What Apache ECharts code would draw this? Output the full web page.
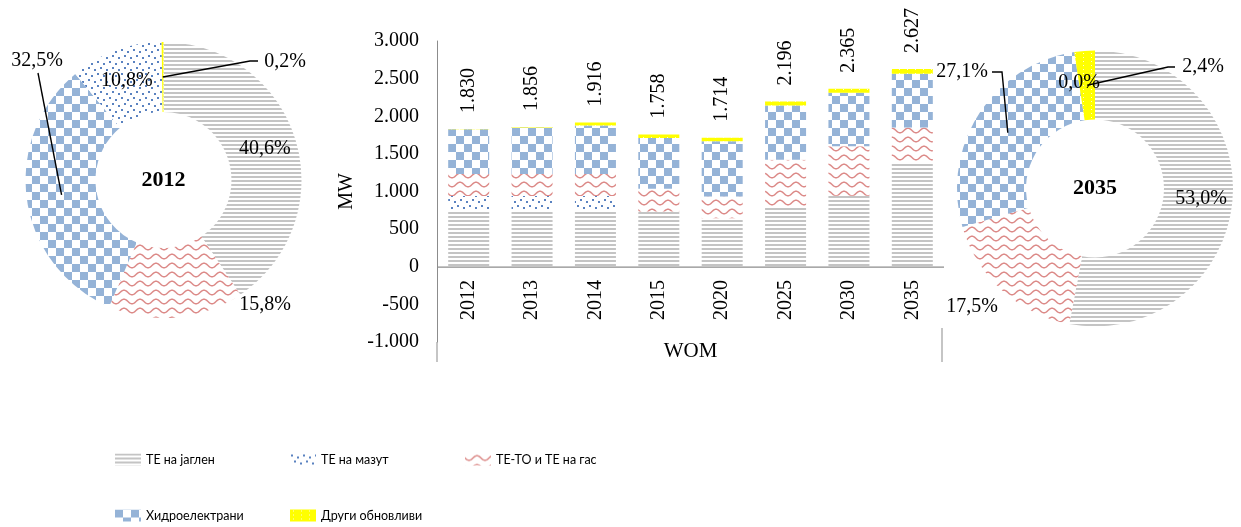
<!DOCTYPE html>
<html><head><meta charset="utf-8">
<script src="https://cdn.jsdelivr.net/npm/echarts@6/dist/echarts.min.js"></script>
<style>html,body{margin:0;padding:0;background:#fff}#c{width:1241px;height:527px}</style>
</head><body><div id="c"></div>
<script>
// ---- data ----
const categories = ['2012', '2013', '2014', '2015', '2020', '2025', '2030', '2035'];
const seriesNames = ['ТЕ на јаглен', 'ТЕ на мазут', 'ТЕ-ТО и ТЕ на гас', 'Хидроелектрани', 'Други обновливи'];
const coal  = [743, 743, 743, 733, 645, 792, 942, 1392];
const mazut = [198, 198, 198, 0, 0, 0, 0, 0];
const gas   = [290, 290, 290, 303, 288, 630, 658, 460];
const hydro = [595, 619, 645, 676, 734, 720, 711, 712];
const other = [4, 6, 40, 46, 47, 54, 54, 63];
const yMin = -1000, yMax = 3000, yInterval = 500;
const pieYears = ['2012', '2035'];
const pieOrder = [0, 2, 3, 1, 4]; // slice order clockwise from 12 o'clock
const xAxisName = 'WOM', yAxisName = 'MW';

// ---- helpers ----
const barData = [coal, mazut, gas, hydro, other];
const totals = categories.map((_, j) => barData.reduce((s, a) => s + a[j], 0));
const fmt = n => String(n).replace(/\B(?=(\d{3})+(?!\d))/g, '.');

function pat(w, h, draw) {
  const c = document.createElement('canvas'); c.width = w; c.height = h;
  const g = c.getContext('2d'); g.fillStyle = '#fff'; g.fillRect(0, 0, w, h); draw(g);
  return { image: c, repeat: 'repeat' };
}
const P = [
  pat(4, 4, g => { g.fillStyle = '#c4c4c4'; g.fillRect(0, 0, 4, 2); }),
  pat(12, 12, g => { g.fillStyle = '#5a82c0'; [[1, 1], [7, 3], [4, 7], [10, 9]].forEach(([x, y]) => g.fillRect(x, y, 2, 2)); }),
  pat(16, 9, g => { g.strokeStyle = '#dc8a88'; g.lineWidth = 1.5; g.beginPath();
    for (let x = -1; x <= 17; x += 0.5) { const y = 4.5 + 2.3 * Math.sin(2 * Math.PI * x / 16); x === -1 ? g.moveTo(x, y) : g.lineTo(x, y); } g.stroke(); }),
  pat(16, 16, g => { g.fillStyle = '#95b3d7'; g.fillRect(0, 0, 8, 8); g.fillRect(8, 8, 8, 8); }),
  pat(8, 4, g => { g.fillStyle = '#ffff00'; g.fillRect(0, 0, 8, 4); g.fillStyle = '#fffbd0'; g.fillRect(3, 1, 1, 1); })
];
const serif = 'Liberation Serif, Times New Roman, serif';
const sans = 'Lato, Roboto, Liberation Sans, sans-serif';

// pie geometry
const pies = [
  { cx: 163.5, cy: 180, r0: 68, r: 138, year: pieYears[0],
    outside: { 1: [265, 305], 2: [37, 61], 4: [285, 62] },
    lines: { 2: [[38, 73]], 4: [[250, 61], [258, 61]] } },
  { cx: 1095, cy: 188.5, r0: 69, r: 138, year: pieYears[1],
    outside: { 1: [972, 307], 2: [962, 72], 4: [1203, 67] },
    lines: { 2: [[1002, 72], [992, 72]], 4: [[1168, 67], [1175, 67]] } }
];
const gridBox = { left: 437, top: 41, width: 507, height: 301 };

const series = barData.map((d, i) => ({
  type: 'bar', name: seriesNames[i], stack: 'total', data: d, barWidth: 41,
  itemStyle: { color: P[i] },
  label: i === 4 ? { show: true, position: 'top', rotate: 90, align: 'left', verticalAlign: 'middle', distance: 16,
    fontFamily: serif, fontSize: 20, color: '#000', formatter: p => fmt(totals[p.dataIndex]) } : { show: false }
}));

const graphic = [];
pies.forEach((pc, k) => {
  const j = categories.indexOf(pc.year);
  const vals = pieOrder.map(i => barData[i][j]);
  const sum = vals.reduce((a, b) => a + b, 0);
  series.push({
    type: 'pie', center: [pc.cx, pc.cy], radius: [pc.r0, pc.r], startAngle: 90, clockwise: true,
    avoidLabelOverlap: false, silent: true,
    data: pieOrder.map((i, n) => ({ name: seriesNames[i], value: vals[n], itemStyle: { color: P[i] },
      label: { position: pc.outside[n] ? 'outside' : 'inside' } })),
    label: { show: true, fontFamily: serif, fontSize: 20, color: '#000',
      formatter: p => (p.value / sum * 100).toFixed(1).replace('.', ',') + '%' },
    labelLine: { show: false },
    labelLayout: p => { const o = pc.outside[p.dataIndex]; return o ? { x: o[0], y: o[1], align: 'center', verticalAlign: 'middle' } : {}; }
  });
  // leader lines from mid-radius of slice
  let cum = 0; const rm = (pc.r0 + pc.r) / 2;
  vals.forEach((v, n) => {
    const mid = (cum + v / 2) / sum * 2 * Math.PI; cum += v;
    if (pc.lines[n]) {
      const a = [pc.cx + rm * Math.sin(mid), pc.cy - rm * Math.cos(mid)];
      graphic.push({ type: 'polyline', shape: { points: [a].concat(pc.lines[n]) }, style: { stroke: '#000', lineWidth: 1.4, fill: null }, z: 100 });
    }
  });
  graphic.push({ type: 'text', x: pc.cx, y: pc.cy, style: { text: pc.year, align: 'center', verticalAlign: 'middle',
    fontFamily: serif, fontWeight: 'bold', fontSize: 22, fill: '#000' }, z: 100 });
});
// category axis line at value 0 (position from the value axis range)
const y0 = gridBox.top + gridBox.height * (yMax - 0) / (yMax - yMin);
graphic.push({ type: 'rect', shape: { x: gridBox.left, y: Math.round(y0) - 0.5, width: gridBox.width, height: 1.2 },
  style: { fill: '#8c8c8c' }, z: 50 });
graphic.push({ type: 'rect', shape: { x: 436.5, y: 342, width: 1, height: 20 }, style: { fill: '#8c8c8c' } });
graphic.push({ type: 'rect', shape: { x: 941.5, y: 328, width: 1, height: 34 }, style: { fill: '#8c8c8c' } });

const legendPos = [[115, 453], [290, 453], [465, 453], [115, 509], [290, 509]];
const legend = seriesNames.map((n, i) => ({
  data: [n], left: legendPos[i][0], top: legendPos[i][1], padding: 0, itemWidth: 26, itemHeight: 12, icon: 'rect',
  selectedMode: false, textStyle: { fontFamily: sans, fontSize: 12.5, color: '#000' }
}));

const chart = echarts.init(document.getElementById('c'), null, { renderer: 'canvas' });
chart.setOption({
  animation: false,
  backgroundColor: '#fff',
  grid: Object.assign({ containLabel: false }, gridBox),
  xAxis: { type: 'category', data: categories,
    axisLine: { show: false, onZero: false }, axisTick: { show: false },
    axisLabel: { rotate: 90, margin: -62, fontFamily: serif, fontSize: 20, color: '#000' },
    name: xAxisName, nameLocation: 'middle', nameGap: -1, nameMoveOverlap: false,
    nameTextStyle: { fontFamily: serif, fontSize: 21, color: '#000' } },
  yAxis: { type: 'value', min: yMin, max: yMax, interval: yInterval, splitLine: { show: false },
    axisLine: { show: true, lineStyle: { color: '#8c8c8c' } }, axisTick: { show: false },
    axisLabel: { margin: 18, fontFamily: serif, fontSize: 20, color: '#000', formatter: v => fmt(v) },
    name: yAxisName, nameLocation: 'middle', nameGap: 80, nameMoveOverlap: false,
    nameTextStyle: { fontFamily: serif, fontSize: 20, color: '#000' } },
  legend, series, graphic
});
</script></body></html>
